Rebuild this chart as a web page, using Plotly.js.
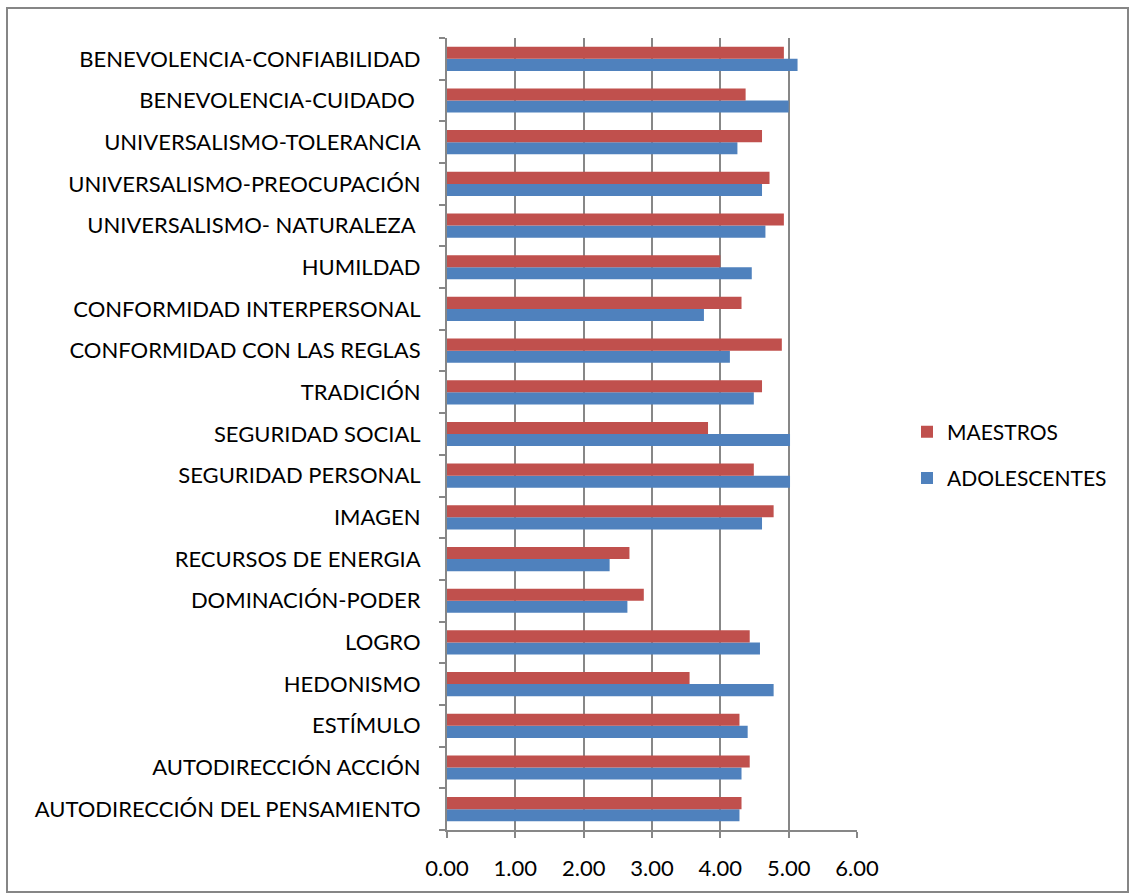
<!DOCTYPE html>
<html><head><meta charset="utf-8">
<script src="https://cdn.plot.ly/plotly-3.0.1.min.js"></script>
<style>html,body{margin:0;padding:0;background:#fff}#chart{width:1129px;height:893px}</style>
</head><body><div id="chart"></div>
<script>
// categories listed bottom to top
const categories = [
  "AUTODIRECCIÓN DEL PENSAMIENTO",
  "AUTODIRECCIÓN ACCIÓN",
  "ESTÍMULO",
  "HEDONISMO",
  "LOGRO",
  "DOMINACIÓN-PODER",
  "RECURSOS DE ENERGIA",
  "IMAGEN",
  "SEGURIDAD PERSONAL",
  "SEGURIDAD SOCIAL",
  "TRADICIÓN",
  "CONFORMIDAD CON LAS REGLAS",
  "CONFORMIDAD INTERPERSONAL",
  "HUMILDAD",
  "UNIVERSALISMO- NATURALEZA ",
  "UNIVERSALISMO-PREOCUPACIÓN",
  "UNIVERSALISMO-TOLERANCIA",
  "BENEVOLENCIA-CUIDADO ",
  "BENEVOLENCIA-CONFIABILIDAD"
];
const maestros = [4.31, 4.43, 4.28, 3.55, 4.43, 2.88, 2.67, 4.78, 4.49, 3.82, 4.61, 4.90, 4.31, 4.00, 4.93, 4.72, 4.61, 4.37, 4.93];
const adolescentes = [4.28, 4.31, 4.40, 4.78, 4.58, 2.64, 2.38, 4.61, 5.02, 5.02, 4.49, 4.14, 3.76, 4.46, 4.66, 4.61, 4.25, 5.00, 5.13];
const xTicks = [0, 1, 2, 3, 4, 5, 6];

const L = 447, R = 857, T = 38, B = 830, W = 1129, H = 893;
const px = x => (x - L) / (R - L);
const py = y => (B - y) / (B - T);
const FONT = "Lato, 'Open Sans', sans-serif";

const data = [
  {type: 'bar', orientation: 'h', name: 'ADOLESCENTES', y: categories, x: adolescentes,
   legendgroup: 'a', legendrank: 2, marker: {color: '#4f81bd'}, hoverinfo: 'x+y'},
  {type: 'bar', orientation: 'h', name: 'MAESTROS', y: categories, x: maestros,
   legendgroup: 'm', legendrank: 1, marker: {color: '#c0504d'}, hoverinfo: 'x+y'}
];

const layout = {
  width: W, height: H,
  margin: {l: L, r: W - R, t: T, b: H - B, pad: 0},
  paper_bgcolor: '#ffffff', plot_bgcolor: '#ffffff',
  barmode: 'group', bargap: 0.42, bargroupgap: 0,
  font: {family: FONT, size: 22, color: '#000'},
  showlegend: true,
  legend: {x: px(907), y: py(455), xanchor: 'left', yanchor: 'middle', traceorder: 'grouped',
           font: {family: FONT, size: 21, color: '#000'}, itemwidth: 30, tracegroupgap: 16,
           bgcolor: 'rgba(0,0,0,0)'},
  xaxis: {range: [0, 6], tickvals: xTicks, tickformat: '.2f', showgrid: true,
          gridcolor: '#878787', gridwidth: 2, showline: true, linecolor: '#878787', linewidth: 2,
          ticks: 'outside', ticklen: 6, tickcolor: '#878787', tickwidth: 2, zeroline: false,
          ticklabelstandoff: 12,
          tickfont: {family: FONT, size: 22, color: '#000'}, fixedrange: true},
  yaxis: {type: 'category', categoryorder: 'array', categoryarray: categories,
          showline: true, linecolor: '#878787', linewidth: 2, ticks: 'outside', ticklen: 6,
          tickcolor: '#878787', tickwidth: 2, tickson: 'boundaries', showgrid: false,
          ticklabelstandoff: 20,
          tickfont: {family: FONT, size: 22, color: '#000'}, fixedrange: true},
  shapes: [{type: 'rect', xref: 'paper', yref: 'paper',
            x0: px(7), x1: px(1128), y0: py(892), y1: py(8),
            line: {color: '#868686', width: 2}, fillcolor: 'rgba(0,0,0,0)', layer: 'below'}]
};

Plotly.newPlot('chart', data, layout, {displayModeBar: false, staticPlot: true});
</script></body></html>
